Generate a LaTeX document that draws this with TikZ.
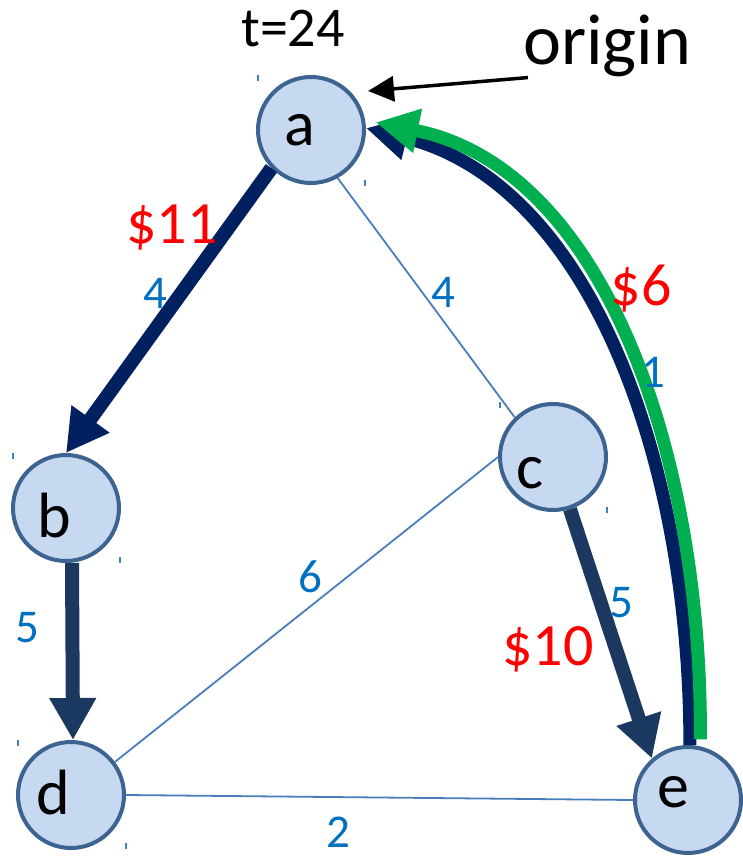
\documentclass[tikz,border=0pt]{standalone}
\usepackage{fontspec}
\setmainfont{Carlito}
\usetikzlibrary{arrows.meta}
\definecolor{navyc}{HTML}{002060}
\definecolor{slatec}{HTML}{1B3960}
\definecolor{greenc}{HTML}{00B050}
\definecolor{redc}{HTML}{FF0000}
\definecolor{wblue}{HTML}{0070C0}
\definecolor{lightc}{HTML}{4A7EBB}
\definecolor{nodefill}{HTML}{C6D9F0}
\definecolor{nodeline}{HTML}{3D6391}
\begin{document}
\begin{tikzpicture}[x=1pt,y=-1pt,
  vtx/.style={circle,draw=nodeline,fill=nodefill,line width=4pt,minimum size=106pt,inner sep=0pt},
  lett/.style={font=\fontsize{64}{64}\selectfont,anchor=base,inner sep=0pt,text=black},
  lightedge/.style={draw=lightc,line width=1.8pt},
  heavy/.style={line width=14pt,-{Triangle[length=42pt,width=44pt]}},
  cost/.style={text=redc,font=\fontsize{60}{60}\selectfont,anchor=base,inner sep=0pt},
  wt/.style={text=wblue,font=\fontsize{47}{47}\selectfont,anchor=base,inner sep=0pt},
  tickmark/.style={draw=lightc,line width=1.2pt}]
\useasboundingbox (0,0) rectangle (742,856);

% vertices
\node[vtx,label={[lett,xshift=-11pt,yshift=0pt]center:a}] (a) at (311,130) {};
\node[vtx,label={[lett,xshift=-12pt,yshift=-7pt]center:b}] (b) at (66,508) {};
\node[vtx,label={[lett,xshift=-23pt,yshift=-16pt]center:c}] (c) at (553,457) {};
\node[vtx,label={[lett,xshift=-18pt,yshift=3pt]center:d}] (d) at (71,795) {};
\node[vtx,label={[lett,xshift=-15pt,yshift=8pt]center:e}] (e) at (688,800) {};

% thin edges
\draw[lightedge] (a.-61) -- (c.134);
\draw[lightedge] (c.180) -- (d.37);
\draw[lightedge] (d.0) -- (e.180);

% heavy arrows
\draw[heavy,draw=navyc,fill=navyc] (a.224) -- (b.north);
\draw[heavy,draw=slatec,fill=slatec] ([xshift=6pt]b.south) -- ([xshift=2pt]d.north);
\draw[heavy,draw=slatec,fill=slatec] (c.-72) -- (e.131);

% curved arrows e -> a
\draw[line width=13pt,navyc,-{Triangle[length=42pt,width=42pt]}]
  (e.88) .. controls +(0,-285) and +(224,55) .. (a.2);
\draw[line width=13pt,greenc,-{Triangle[length=43pt,width=42pt]}]
  ([yshift=7pt]e.77) .. controls +(2,-284) and +(229,46) .. ([xshift=10pt]a.8);

% texts
\node[font=\fontsize{56}{56}\selectfont,anchor=base,inner sep=0pt] (t) at (293,47) {t=24};
\node[font=\fontsize{72}{72}\selectfont,anchor=base,inner sep=0pt] (origin) at (607,65) {origin};
\coordinate (otip) at (368,91);
\draw[line width=3.5pt,-{Triangle[length=26pt,width=25pt]}] ([xshift=5pt]origin.south west) -- (otip);

\node[cost] (c11) at (172,243) {\$11};
\node[cost] (c6) at (641,305) {\$6};
\node[cost] (c10) at (548,665) {\$10};

\node[wt] (wab) at (155,308) {4};
\node[wt] (wac) at (443,307) {4};
\node[wt] (wea) at (653,387) {1};
\node[wt] (wce) at (621,617) {5};
\node[wt] (wcd) at (310,592) {6};
\node[wt] (wbd) at (27,642) {5};
\node[wt] (wde) at (338,847) {2};

% small marks
\foreach \p in {(258,78),(365,183),(13,456),(120,560),(18,743),(126,846),(500,405),(607,510)}
  \draw[tickmark] \p ++(0,-3) -- ++(0,6);
\end{tikzpicture}
\end{document}
